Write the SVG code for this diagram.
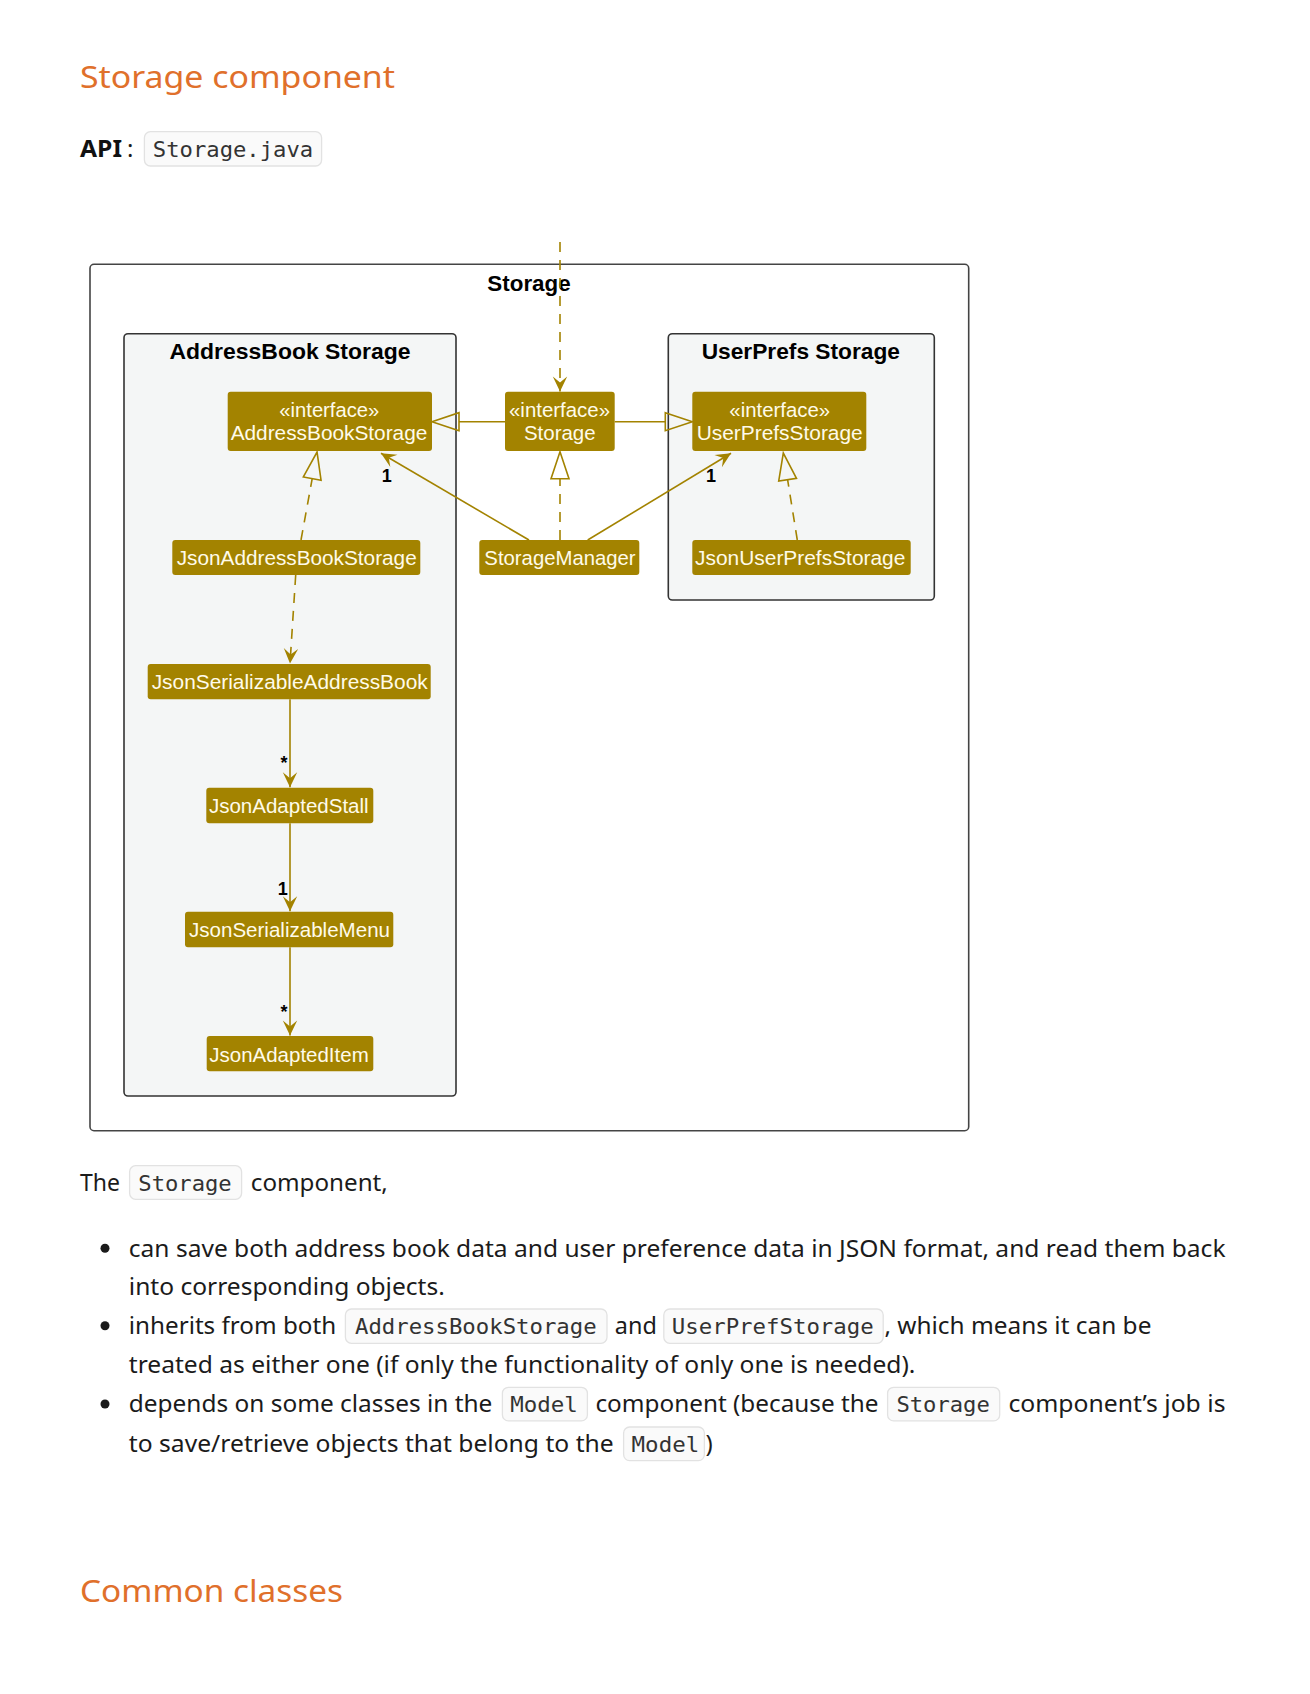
<svg xmlns="http://www.w3.org/2000/svg" width="1310" height="1694" viewBox="0 0 1310 1694">
<style>
.h{font-family:"Noto Sans","Liberation Sans",sans-serif;font-size:31px;fill:#E0702B}
.b{font-family:"Noto Sans","Liberation Sans",sans-serif;font-size:24px;fill:#1b1b1b}
.bb{font-family:"Noto Sans","Liberation Sans",sans-serif;font-size:24px;font-weight:bold;fill:#111}
.c{font-family:"DejaVu Sans Mono","Liberation Mono",monospace;font-size:22px;fill:#333}
.cb{fill:#fafafa;stroke:#e2e2e2;stroke-width:1.3}
.frame{fill:#fff;stroke:#444;stroke-width:1.6}
.pkg{fill:#F4F6F6;stroke:#333;stroke-width:1.6}
.pt{font-family:"Liberation Sans",Arial,sans-serif;font-weight:bold;font-size:22.5px;fill:#000;text-anchor:middle}
.cls{fill:#A38300}
.ct{font-family:"Liberation Sans",Arial,sans-serif;font-size:20.5px;fill:#fffbea;text-anchor:middle}
.e{fill:none;stroke:#A38300;stroke-width:1.6}
.d{stroke-dasharray:10 8}
.lbl{font-family:"Liberation Sans",Arial,sans-serif;font-weight:bold;font-size:18px;fill:#000;text-anchor:middle}
</style>
<defs>
<marker id="v" markerUnits="userSpaceOnUse" orient="auto" overflow="visible" markerWidth="1" markerHeight="1" refX="0" refY="0"><path d="M0,0 L-15,-7.2 L-9,0 L-15,7.2 Z" fill="#A38300"/></marker>
<marker id="tri" markerUnits="userSpaceOnUse" orient="auto" overflow="visible" markerWidth="1" markerHeight="1" refX="0" refY="0"><path d="M0,-9 L27,0 L0,9 Z" fill="none" stroke="#A38300" stroke-width="1.6"/></marker>
</defs>

<!-- page text -->
<text class="h" x="80" y="88" textLength="315" lengthAdjust="spacingAndGlyphs">Storage component</text>
<text class="bb" x="80" y="157.3" textLength="42" lengthAdjust="spacingAndGlyphs">API</text>
<text class="b" x="127" y="157.3">:</text>
<rect class="cb" x="144.4" y="131.7" width="177.2" height="34.3" rx="6"/>
<text class="c" x="152.8" y="157.3" textLength="160.4" lengthAdjust="spacingAndGlyphs">Storage.java</text>

<!-- diagram -->
<g id="StoragePackage">
<rect class="frame" x="90" y="264.3" width="878.7" height="866.4" rx="4"/>
<text class="pt" x="529" y="291" textLength="83.3" lengthAdjust="spacingAndGlyphs">Storage</text>
</g>
<g id="AddressBookStoragePackage">
<rect class="pkg" x="124" y="333.7" width="332" height="762.3" rx="4"/>
<text class="pt" x="290" y="359" textLength="241" lengthAdjust="spacingAndGlyphs">AddressBook Storage</text>
</g>
<g id="UserPrefsStoragePackage">
<rect class="pkg" x="668.3" y="333.7" width="266" height="266.3" rx="4"/>
<text class="pt" x="800.8" y="359" textLength="198.3" lengthAdjust="spacingAndGlyphs">UserPrefs Storage</text>
</g>

<g id="AddressBookStorage">
<rect class="cls" x="227.7" y="391.7" width="204.3" height="59.3" rx="3"/>
<text class="ct" x="329.3" y="416.7" textLength="100" lengthAdjust="spacingAndGlyphs">«interface»</text>
<text class="ct" x="329" y="440" textLength="196.7" lengthAdjust="spacingAndGlyphs">AddressBookStorage</text>
</g>
<g id="Storage">
<rect class="cls" x="505" y="391.7" width="109.7" height="59.3" rx="3"/>
<text class="ct" x="559.5" y="416.7" textLength="101" lengthAdjust="spacingAndGlyphs">«interface»</text>
<text class="ct" x="559.8" y="440" textLength="71.7" lengthAdjust="spacingAndGlyphs">Storage</text>
</g>
<g id="UserPrefsStorage">
<rect class="cls" x="692.3" y="391.7" width="174" height="59.3" rx="3"/>
<text class="ct" x="779.7" y="416.7" textLength="100.7" lengthAdjust="spacingAndGlyphs">«interface»</text>
<text class="ct" x="779.7" y="440" textLength="166" lengthAdjust="spacingAndGlyphs">UserPrefsStorage</text>
</g>
<g id="StorageManager">
<rect class="cls" x="479.3" y="540" width="160" height="35" rx="3"/>
<text class="ct" x="560" y="565" textLength="151.3" lengthAdjust="spacingAndGlyphs">StorageManager</text>
</g>
<g id="JsonUserPrefsStorage">
<rect class="cls" x="692.3" y="540" width="218.4" height="35" rx="3"/>
<text class="ct" x="800.2" y="565" textLength="210.3" lengthAdjust="spacingAndGlyphs">JsonUserPrefsStorage</text>
</g>
<g id="JsonAddressBookStorage">
<rect class="cls" x="172.3" y="540" width="248" height="35" rx="3"/>
<text class="ct" x="296.7" y="565" textLength="240" lengthAdjust="spacingAndGlyphs">JsonAddressBookStorage</text>
</g>
<g id="JsonSerializableAddressBook">
<rect class="cls" x="147.7" y="664" width="283" height="35.3" rx="3"/>
<text class="ct" x="289.7" y="689" textLength="276" lengthAdjust="spacingAndGlyphs">JsonSerializableAddressBook</text>
</g>
<g id="JsonAdaptedStall">
<rect class="cls" x="206.3" y="787.7" width="167" height="35.6" rx="3"/>
<text class="ct" x="288.8" y="813.3" textLength="159.7" lengthAdjust="spacingAndGlyphs">JsonAdaptedStall</text>
</g>
<g id="JsonSerializableMenu">
<rect class="cls" x="185" y="911.7" width="208.3" height="35.6" rx="3"/>
<text class="ct" x="289.5" y="937.3" textLength="201" lengthAdjust="spacingAndGlyphs">JsonSerializableMenu</text>
</g>
<g id="JsonAdaptedItem">
<rect class="cls" x="206.7" y="1036" width="166.6" height="35.3" rx="3"/>
<text class="ct" x="289" y="1061.7" textLength="159.4" lengthAdjust="spacingAndGlyphs">JsonAdaptedItem</text>
</g>

<g id="connectors">
<path class="e d" d="M560,242 L560,391.5" marker-end="url(#v)"/>
<path class="e" d="M505,421.7 L459,421.7" marker-end="url(#tri)"/>
<path class="e" d="M614.7,421.7 L665.3,421.7" marker-end="url(#tri)"/>
<path class="e d" d="M560,540 L560,478.7" marker-end="url(#tri)"/>
<path class="e" d="M529,540 L381,453.3" marker-end="url(#v)"/>
<path class="e" d="M587.7,540 L731,453.3" marker-end="url(#v)"/>
<path class="e d" d="M301,540 L312.2,478.6" marker-end="url(#tri)"/>
<path class="e d" d="M797.3,540 L787.6,479.7" marker-end="url(#tri)"/>
<path class="e d" d="M295.7,575 L290,663.5" marker-end="url(#v)"/>
<path class="e" d="M290,699.3 L290,787.2" marker-end="url(#v)"/>
<path class="e" d="M290,823.3 L290,911.2" marker-end="url(#v)"/>
<path class="e" d="M290,947.3 L290,1035.5" marker-end="url(#v)"/>
<text class="lbl" x="386.7" y="482.3">1</text>
<text class="lbl" x="711" y="482.3">1</text>
<text class="lbl" x="284" y="769">*</text>
<text class="lbl" x="282.7" y="895">1</text>
<text class="lbl" x="284" y="1017.5">*</text>
</g>

<!-- description text -->
<text class="b" x="80" y="1190.7" textLength="40" lengthAdjust="spacingAndGlyphs">The</text>
<rect class="cb" x="129.6" y="1165.7" width="112" height="33.6" rx="6"/>
<text class="c" x="138.3" y="1190.7" textLength="93.4" lengthAdjust="spacingAndGlyphs">Storage</text>
<text class="b" x="250.8" y="1190.7" textLength="137" lengthAdjust="spacingAndGlyphs">component,</text>

<circle cx="105" cy="1248.3" r="4.5" fill="#1b1b1b"/>
<circle cx="105" cy="1325.7" r="4.5" fill="#1b1b1b"/>
<circle cx="105" cy="1404" r="4.5" fill="#1b1b1b"/>

<text class="b" x="128.8" y="1256.7" textLength="1096.7" lengthAdjust="spacingAndGlyphs">can save both address book data and user preference data in JSON format, and read them back</text>
<text class="b" x="128.8" y="1295" textLength="316" lengthAdjust="spacingAndGlyphs">into corresponding objects.</text>

<text class="b" x="128.8" y="1334" textLength="207.4" lengthAdjust="spacingAndGlyphs">inherits from both</text>
<rect class="cb" x="345.4" y="1309" width="261.6" height="34.3" rx="6"/>
<text class="c" x="355" y="1334" textLength="241.6" lengthAdjust="spacingAndGlyphs">AddressBookStorage</text>
<text class="b" x="614.8" y="1334" textLength="42" lengthAdjust="spacingAndGlyphs">and</text>
<rect class="cb" x="663.8" y="1309" width="219.4" height="34.3" rx="6"/>
<text class="c" x="671.8" y="1334" textLength="201.9" lengthAdjust="spacingAndGlyphs">UserPrefStorage</text>
<text class="b" x="884.4" y="1334" textLength="267" lengthAdjust="spacingAndGlyphs">, which means it can be</text>
<text class="b" x="128.8" y="1372.7" textLength="786.6" lengthAdjust="spacingAndGlyphs">treated as either one (if only the functionality of only one is needed).</text>

<text class="b" x="128.8" y="1411.7" textLength="363.6" lengthAdjust="spacingAndGlyphs">depends on some classes in the</text>
<rect class="cb" x="502.4" y="1387.3" width="85" height="33.6" rx="6"/>
<text class="c" x="510.3" y="1411.7" textLength="67.6" lengthAdjust="spacingAndGlyphs">Model</text>
<text class="b" x="595.4" y="1411.7" textLength="283.1" lengthAdjust="spacingAndGlyphs">component (because the</text>
<rect class="cb" x="887.6" y="1387.3" width="112.1" height="33.6" rx="6"/>
<text class="c" x="896.4" y="1411.7" textLength="93.4" lengthAdjust="spacingAndGlyphs">Storage</text>
<text class="b" x="1008.4" y="1411.7" textLength="217.1" lengthAdjust="spacingAndGlyphs">component’s job is</text>

<text class="b" x="128.8" y="1451.7" textLength="484.9" lengthAdjust="spacingAndGlyphs">to save/retrieve objects that belong to the</text>
<rect class="cb" x="623.6" y="1427" width="80.8" height="33.6" rx="6"/>
<text class="c" x="631.6" y="1451.7" textLength="67.6" lengthAdjust="spacingAndGlyphs">Model</text>
<text class="b" x="705.6" y="1451.7">)</text>

<text class="h" x="80" y="1601.7" textLength="263" lengthAdjust="spacingAndGlyphs">Common classes</text>
</svg>
